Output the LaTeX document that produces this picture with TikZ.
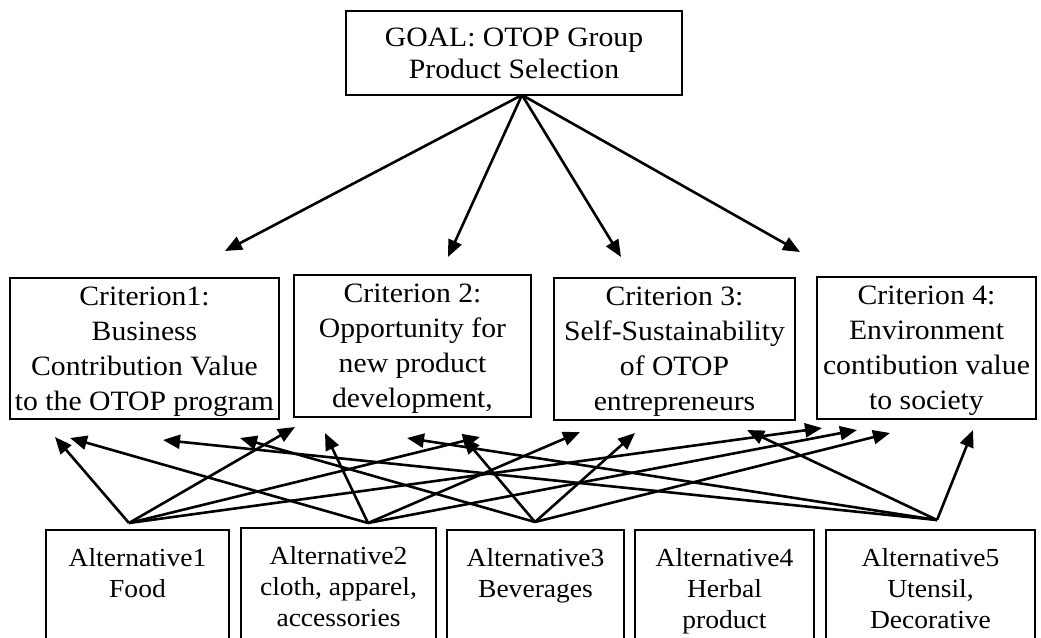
\documentclass[tikz,border=0pt]{standalone}
\usepackage{fontspec}
\setmainfont{Liberation Serif}[FakeStretch=1.06]
\usepackage{tikz}
\usetikzlibrary{positioning}
\usetikzlibrary{arrows.meta}

\begin{document}
\begin{tikzpicture}[x=1pt,y=-1pt,
	box/.style={draw,line width=1.4pt,inner sep=0,outer sep=0},
	lbl/.style={align=center,inner sep=0,font=\fontsize{28pt}{35pt}\selectfont},
	alt/.style={align=center,inner sep=0,font=\fontsize{26pt}{31pt}\selectfont},
	link/.style={-{Triangle[length=17pt,width=14pt]},line width=2.6pt}]
	\useasboundingbox (0,0) rectangle (1041,637);
	\clip (0,0) rectangle (1041,637);
	% goal
	\node[box,align=center,font=\fontsize{28pt}{32pt}\selectfont,minimum width=336pt,minimum height=84pt] (G) at (514,53) {GOAL: OTOP Group\\Product Selection};
	% criteria
	\node[box,minimum width=269pt,minimum height=141pt] (C1) at (144.5,348.5) {};
	\node[box,minimum width=237pt,minimum height=142pt] (C2) at (412.5,346) {};
	\node[box,minimum width=241pt,minimum height=142pt] (C3) at (674.5,349) {};
	\node[box,minimum width=219pt,minimum height=142pt] (C4) at (926.5,348) {};
	\node[lbl,below=9pt of C1.north] (C1t) {Criterion1:\\Business\\Contribution Value\\to the OTOP program};
	\node[lbl,below=9pt of C2.north] (C2t) {Criterion 2:\\Opportunity for\\new product\\development,};
	\node[lbl,below=9pt of C3.north] (C3t) {Criterion 3:\\Self-Sustainability\\of OTOP\\entrepreneurs};
	\node[lbl,below=9pt of C4.north] (C4t) {Criterion 4:\\Environment\\contibution value\\to society};
	% alternatives
	\node[box,anchor=north,minimum width=183pt,minimum height=150pt] (A1) at (137.5,530) {};
	\node[box,anchor=north,minimum width=195pt,minimum height=150pt] (A2) at (338.5,528) {};
	\node[box,anchor=north,minimum width=177pt,minimum height=150pt] (A3) at (535.5,530) {};
	\node[box,anchor=north,minimum width=179pt,minimum height=150pt] (A4) at (724.5,530) {};
	\node[box,anchor=north,minimum width=209pt,minimum height=150pt] (A5) at (930.5,530) {};
	\node[alt,below=18pt of A1.north] (A1t) {Alternative1\\Food};
	\node[alt,below=18pt of A2.north] (A2t) {Alternative2\\cloth, apparel,\\accessories};
	\node[alt,below=18pt of A3.north] (A3t) {Alternative3\\Beverages};
	\node[alt,below=18pt of A4.north] (A4t) {Alternative4\\Herbal\\product};
	\node[alt,below=18pt of A5.north] (A5t) {Alternative5\\Utensil,\\Decorative};
	% arrow ends
	\coordinate (g) at (522,95);
	\coordinate (a1) at (129,523);
	\coordinate (a2) at (368,523);
	\coordinate (a3) at (535,522);
	\coordinate (a5) at (937,520);
	\coordinate (g1) at (225,251);
	\coordinate (g2) at (448,257);
	\coordinate (g3) at (621,257);
	\coordinate (g4) at (800,252);
	\coordinate (a1c1) at (55,437);
	\coordinate (a1c2) at (295,427);
	\coordinate (a1c3) at (480,437);
	\coordinate (a1c4) at (822,428);
	\coordinate (a2c1) at (70,438);
	\coordinate (a2c2) at (325,433);
	\coordinate (a2c3) at (580,432);
	\coordinate (a2c4) at (857,430);
	\coordinate (a3c1) at (240,438);
	\coordinate (a3c2) at (463,437);
	\coordinate (a3c3) at (635,433);
	\coordinate (a3c4) at (890,433);
	\coordinate (a5c1) at (163,440);
	\coordinate (a5c2) at (407,438);
	\coordinate (a5c3) at (747,430);
	\coordinate (a5c4) at (973,430);
	\path[link]
		(g) edge (g1)
		(g) edge (g2)
		(g) edge (g3)
		(g) edge (g4)
		(a1) edge (a1c1)
		(a1) edge (a1c2)
		(a1) edge (a1c3)
		(a1) edge (a1c4)
		(a2) edge (a2c1)
		(a2) edge (a2c2)
		(a2) edge (a2c3)
		(a2) edge (a2c4)
		(a3) edge (a3c1)
		(a3) edge (a3c2)
		(a3) edge (a3c3)
		(a3) edge (a3c4)
		(a5) edge (a5c1)
		(a5) edge (a5c2)
		(a5) edge (a5c3)
		(a5) edge (a5c4);
\end{tikzpicture}
\end{document}
